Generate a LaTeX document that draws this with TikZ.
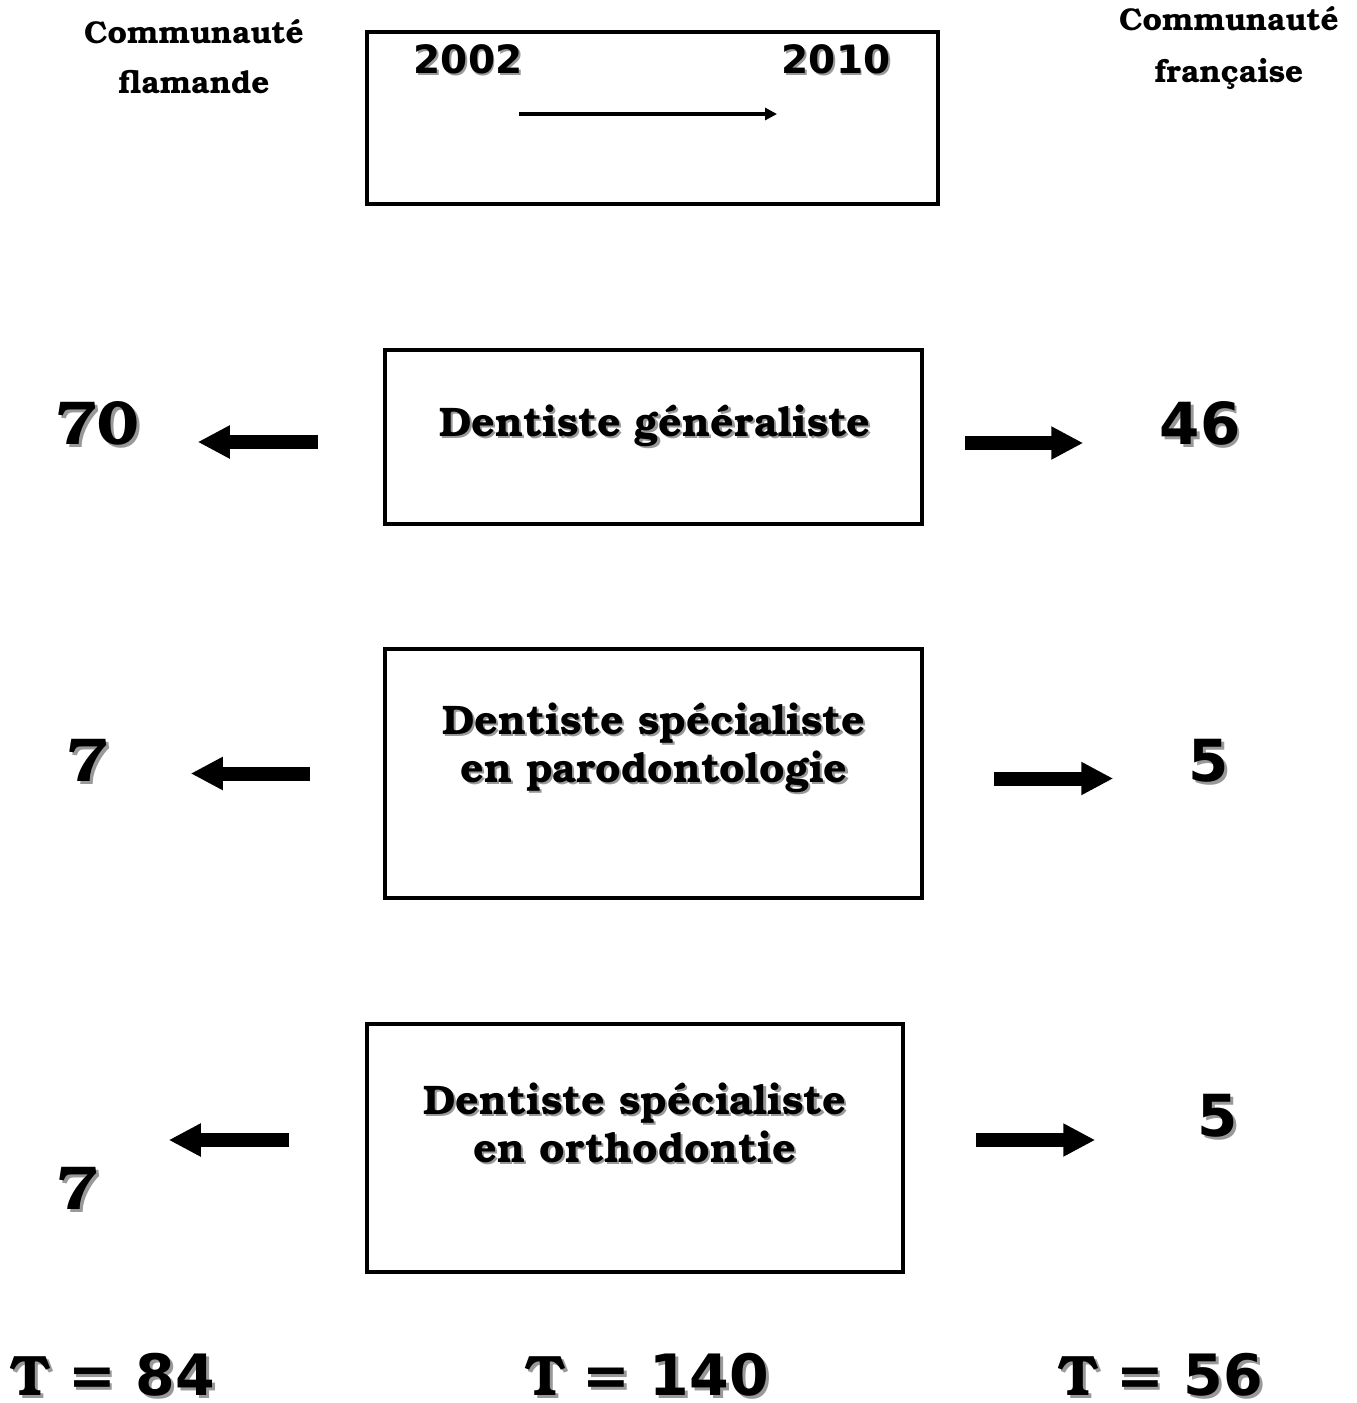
\documentclass[tikz,border=0pt]{standalone}
\usepackage{fontspec}
\usepackage{tikz}
\usetikzlibrary{arrows.meta,positioning}
\newfontfamily\bk{texgyrebonum-bold.otf}
\newfontfamily\vb{DejaVu Sans Bold}
\newcommand\shd[1]{\leavevmode\rlap{\hspace{0.05em}\raisebox{-0.05em}{\color{black!40}#1}}#1}

\begin{document}
\begin{tikzpicture}[x=1pt,y=-1pt,
    box/.style={draw,line width=4.5pt,rectangle,inner sep=0pt},
    lbl/.style={inner sep=0pt,align=center},
    fat/.style={line width=14pt,-{Triangle[length=32pt,width=31pt]}},
    timeline/.style={line width=3.5pt,-{Triangle[length=12pt,width=12pt]}}]
  \useasboundingbox (0,0) rectangle (1357,1403);

  % communities
  \node[lbl,font=\bk\fontsize{31.5}{50}\selectfont] (fl) at (194,57) {Communauté\\flamande};
  \node[lbl,font=\bk\fontsize{31.5}{52}\selectfont] (fr) at (1229,48) {Communauté\\française};

  % period
  \node[box,minimum width=571pt,minimum height=172pt] (per) at (652.5,118) {};
  \node[lbl,font=\vb\fontsize{39}{39}\selectfont] (y02) at (468,60) {\shd{2002}};
  \node[lbl,font=\vb\fontsize{39}{39}\selectfont] (y10) at (836,60) {\shd{2010}};
  \coordinate (t0) at (519,114); \coordinate (t1) at (777,114);
  \draw[timeline] (t0) -- (t1);

  % the three boxes
  \node[box,minimum width=537pt,minimum height=174pt] (gen) at (653.5,437) {};
  \node[lbl,font=\bk\fontsize{41.3}{48}\selectfont] (gent) at (655,427) {\shd{Dentiste généraliste}};
  \node[box,minimum width=537pt,minimum height=249pt] (paro) at (653.5,773.5) {};
  \node[lbl,font=\bk\fontsize{41.3}{48}\selectfont] (parot) at (654,749)
    {\shd{Dentiste spécialiste}\\\shd{en parodontologie}};
  \node[box,minimum width=536pt,minimum height=248pt] (orth) at (635,1148) {};
  \node[lbl,font=\bk\fontsize{41.3}{48}\selectfont] (ortht) at (635,1124)
    {\shd{Dentiste spécialiste}\\\shd{en orthodontie}};

  % numbers
  \node[lbl,font=\bk\fontsize{62}{62}\selectfont] (g70) at (97,425) {\shd{70}};
  \node[lbl,font=\vb\fontsize{58}{58}\selectfont] (g46) at (1200,425) {\shd{46}};
  \node[lbl,font=\bk\fontsize{62}{62}\selectfont] (p7) at (88,762) {\shd{7}};
  \node[lbl,font=\vb\fontsize{58}{58}\selectfont] (p5) at (1209,762) {\shd{5}};
  \node[lbl,font=\bk\fontsize{62}{62}\selectfont] (o7) at (78,1190) {\shd{7}};
  \node[lbl,font=\vb\fontsize{58}{58}\selectfont] (o5) at (1218,1117) {\shd{5}};

  \draw[fat] ([xshift=-65pt,yshift=-5pt]gen.west) -- ++(-120,0);
  \draw[fat] ([xshift=41pt,yshift=-6pt]gen.east) -- ++(118,0);
  \draw[fat] ([xshift=-73pt]paro.west) -- ++(-119,0);
  \draw[fat] ([xshift=70pt,yshift=-5pt]paro.east) -- ++(119,0);
  \draw[fat] ([xshift=-76pt,yshift=8pt]orth.west) -- ++(-120,0);
  \draw[fat] ([xshift=71pt,yshift=8pt]orth.east) -- ++(119,0);

  % totals
  \node[lbl,font=\fontsize{57}{57}\selectfont] (tfl) at (113,1376) {\shd{{\bk T} {\vb = 84}}};
  \node[lbl,font=\fontsize{57}{57}\selectfont] (tall) at (647,1376) {\shd{{\bk T} {\vb = 140}}};
  \node[lbl,font=\fontsize{57}{57}\selectfont] (tfr) at (1161,1376) {\shd{{\bk T} {\vb = 56}}};
\end{tikzpicture}
\end{document}
